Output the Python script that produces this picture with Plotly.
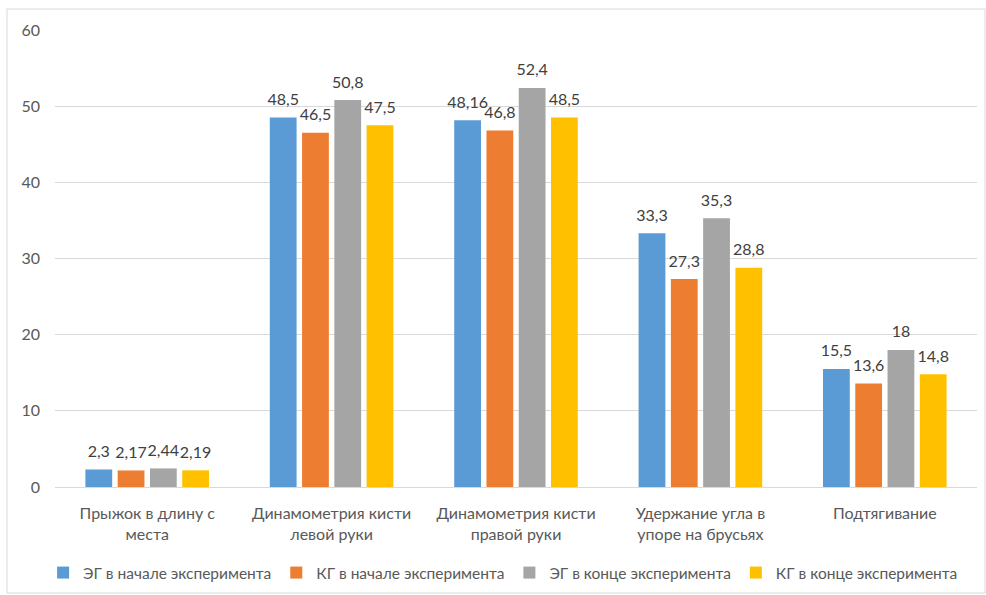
import plotly.graph_objects as go

categories = ["Прыжок в длину с<br>места", "Динамометрия кисти<br>левой руки",
              "Динамометрия кисти<br>правой руки", "Удержание угла в<br>упоре на брусьях",
              "Подтягивание"]
series_names = ["ЭГ в начале эксперимента", "КГ в начале эксперимента",
                "ЭГ в конце эксперимента", "КГ в конце эксперимента"]
eg_start = [2.3, 48.5, 48.16, 33.3, 15.5]
kg_start = [2.17, 46.5, 46.8, 27.3, 13.6]
eg_end = [2.44, 50.8, 52.4, 35.3, 18]
kg_end = [2.19, 47.5, 48.5, 28.8, 14.8]
colors = ["#5B9BD5", "#ED7D31", "#A5A5A5", "#FFC000"]

W, H = 986, 595
L, R, T, B = 55, 9, 30, 108
FONT = "Lato, Noto Sans, sans-serif"

fig = go.Figure()
for i, (name, vals, col) in enumerate(zip(series_names, [eg_start, kg_start, eg_end, kg_end], colors)):
    fig.add_trace(go.Bar(
        x=categories, y=vals, name=name, marker=dict(color=col, line=dict(width=0)),
        offsetgroup=str(i), alignmentgroup="a",
    ))
for i, vals in enumerate([eg_start, kg_start, eg_end, kg_end]):
    fig.add_trace(go.Scatter(
        x=categories, y=vals, mode="markers+text", showlegend=False, hoverinfo="skip",
        marker=dict(size=12, opacity=0), offsetgroup=str(i), alignmentgroup="a",
        text=[f"{v:g}".replace(".", ",") for v in vals], textposition="top center",
        textfont=dict(color="#404040", size=16, family=FONT), cliponaxis=False,
    ))

pw = W - L - R
ph = H - T - B
x0 = (7 - L) / pw
x1 = (985 - L) / pw
y1 = (H - B - 9) / ph
y0 = (H - B - 593) / ph

fig.update_layout(
    width=W, height=H, margin=dict(l=L, r=R, t=T, b=B, autoexpand=False),
    paper_bgcolor="white", plot_bgcolor="white",
    barmode="group", bargap=0.3, bargroupgap=0.17,
    scattermode="group", scattergap=0.3,
    font=dict(family=FONT, color="#595959", size=16),
    yaxis=dict(range=[0, 60], dtick=10, showgrid=True, gridcolor="#D9D9D9", gridwidth=1,
               zeroline=False, showline=False, ticks="", ticklabelstandoff=14,
               tickfont=dict(size=16, color="#595959"), automargin=False),
    xaxis=dict(showline=True, linecolor="#D9D9D9", linewidth=1, ticks="",
               tickfont=dict(size=16, color="#595959"), ticklabelstandoff=12, automargin=False),
    legend=dict(orientation="h", x=0.486, xanchor="center", yref="container",
                y=1 - 573 / H, yanchor="middle",
                font=dict(size=15.5, color="#595959"), itemwidth=30, traceorder="normal"),
    showlegend=True,
    shapes=[dict(type="rect", xref="paper", yref="paper", x0=x0, x1=x1, y0=y0, y1=y1,
                 line=dict(color="#D9D9D9", width=1), fillcolor="rgba(0,0,0,0)", layer="below")],
)

fig.write_html("out.html")
